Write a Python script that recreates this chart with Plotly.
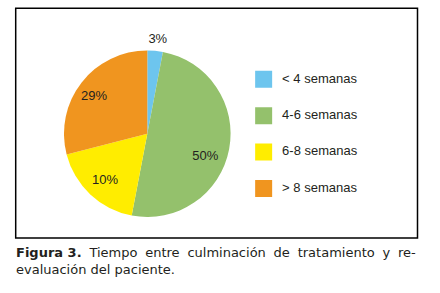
import plotly.graph_objects as go

# ---- data ----
categories = ["< 4 semanas", "4-6 semanas", "6-8 semanas", "> 8 semanas"]
slice_values = [3, 50, 18, 29]
slice_labels = ["3%", "50%", "10%", "29%"]
colors = ["#6DC5EE", "#94C16C", "#FFED00", "#F0951F"]
caption_line1 = ["<b>Figura 3.</b>", "Tiempo", "entre", "culminación", "de", "tratamiento", "y", "re-"]
caption_line2 = "evaluación del paciente."

# ---- label placement styling (radius as fraction of pie radius, angle tweak in degrees) ----
label_radius = [1.13, 0.75, 0.755, 0.78]
label_angle_tweak = [1, 11, -1, -3]

W, H = 440, 293
def px(x):
    return x / W
def py(y):
    return 1 - y / H

# pie centre (147.3, 133.7) px, radius 83.3 px; polar radial range extends to 1.2 so outside label fits
R_MAX = 1.2
cx, cy, rad = 147.3, 133.7, 83.3 * R_MAX
pie_domain = dict(x=[px(cx - rad), px(cx + rad)], y=[py(cy + rad), py(cy - rad)])

# slice geometry derived from the values
total = sum(slice_values)
widths = [v / total * 360 for v in slice_values]
mids = []
cum = 0
for v in slice_values:
    mids.append((cum + v / 2) / total * 360)
    cum += v

fig = go.Figure()

fig.add_trace(go.Barpolar(
    r=[1] * len(slice_values), theta=mids, width=widths,
    marker=dict(color=colors, line=dict(width=0)),
    customdata=categories, hovertemplate="%{customdata}<extra></extra>",
    subplot="polar", showlegend=False,
))

fig.add_trace(go.Scatterpolar(
    r=label_radius, theta=[m + t for m, t in zip(mids, label_angle_tweak)],
    mode="text", text=slice_labels,
    textfont=dict(family="Liberation Sans, Arial, sans-serif", size=13, color="#231F20"),
    subplot="polar", showlegend=False, hoverinfo="skip", cliponaxis=False,
))

# legend drawn as a small scatter panel
fig.add_trace(go.Scatter(
    x=[0] * len(categories), y=categories, mode="markers",
    marker=dict(symbol="square", size=17, color=colors, line=dict(width=0)),
    xaxis="x", yaxis="y", showlegend=False, hoverinfo="skip",
))
fig.add_trace(go.Scatter(
    x=[1] * len(categories), y=categories, mode="text",
    text=categories, textposition="middle right",
    textfont=dict(family="Liberation Sans, Arial, sans-serif", size=13, color="#231F20"),
    xaxis="x", yaxis="y", showlegend=False, hoverinfo="skip",
))

span = 8.66
xmin = -0.568
cap_font = dict(family="DejaVu Sans, sans-serif", size=13, color="#231F20")
fig.update_layout(
    width=W, height=H,
    margin=dict(l=0, r=0, t=0, b=0),
    paper_bgcolor="white", plot_bgcolor="rgba(0,0,0,0)",
    polar=dict(domain=pie_domain, bgcolor="rgba(0,0,0,0)", bargap=0, hole=0,
               radialaxis=dict(range=[0, R_MAX], visible=False, showgrid=False),
               angularaxis=dict(rotation=90, direction="clockwise", visible=False, showgrid=False)),
    xaxis=dict(domain=[px(255), px(415)], range=[xmin + 0.1, xmin + span + 0.1], visible=False, fixedrange=True),
    yaxis=dict(domain=[py(206.6), py(61.1)], type="category", categoryorder="array",
               categoryarray=categories, range=[3.5, -0.5], visible=False, fixedrange=True),
    shapes=[dict(type="rect", xref="paper", yref="paper",
                 x0=px(15.7), x1=px(417.5), y0=py(238), y1=py(8.3),
                 line=dict(color="black", width=1.5), fillcolor="rgba(0,0,0,0)")],
    annotations=[
        dict(xref="paper", yref="paper", x=px(14), y=py(260.5), xanchor="left", yanchor="middle",
             align="left",
             text="\u2002\u200a".join(caption_line1) + "<br>" + caption_line2,
             showarrow=False, font=cap_font),
    ],
)

fig.write_html("out.html", config=dict(displayModeBar=False),
               post_script="document.body.style.margin='0';document.body.style.overflow='hidden';")
